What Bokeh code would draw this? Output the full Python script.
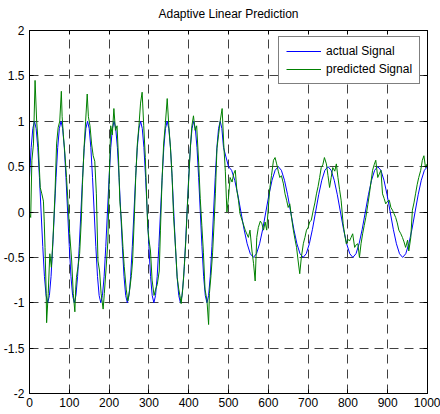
import numpy as np
from bokeh.plotting import figure
from bokeh.models import LinearAxis, FixedTicker, Legend, LegendItem, Range1d
from bokeh.embed import file_html
from bokeh.resources import INLINE

title_text = "Adaptive Linear Prediction"
x_ticks = [0, 100, 200, 300, 400, 500, 600, 700, 800, 900, 1000]
x_tick_labels = ["0", "100", "200", "300", "400", "500", "600", "700", "800", "900", "1000"]
y_ticks = [-2, -1.5, -1, -0.5, 0, 0.5, 1, 1.5, 2]
y_tick_labels = ["-2", "-1.5", "-1", "-0.5", "0", "0.5", "1", "1.5", "2"]

# actual signal, first part (samples 0..487.5, step 500/120)
actual_part1 = [
    0.38, 0.71, 0.92, 1.00, 0.92, 0.71, 0.38, 0.00, -0.38, -0.71, -0.92, -1.00, -0.92, -0.71, -0.38, 0.00,
    0.38, 0.71, 0.92, 1.00, 0.92, 0.71, 0.38, 0.00, -0.38, -0.71, -0.92, -1.00, -0.92, -0.71, -0.38, 0.00,
    0.38, 0.71, 0.92, 1.00, 0.92, 0.71, 0.38, 0.00, -0.38, -0.71, -0.92, -1.00, -0.92, -0.71, -0.38, 0.00,
    0.38, 0.71, 0.92, 1.00, 0.92, 0.71, 0.38, 0.00, -0.38, -0.71, -0.92, -1.00, -0.92, -0.71, -0.38, 0.00,
    0.38, 0.71, 0.92, 1.00, 0.92, 0.71, 0.38, 0.00, -0.38, -0.71, -0.92, -1.00, -0.92, -0.71, -0.38, 0.00,
    0.38, 0.71, 0.92, 1.00, 0.92, 0.71, 0.38, 0.00, -0.38, -0.71, -0.92, -1.00, -0.92, -0.71, -0.38, 0.00,
    0.38, 0.71, 0.92, 1.00, 0.92, 0.71, 0.38, 0.00, -0.38, -0.71, -0.92, -1.00, -0.92, -0.71, -0.38, 0.00,
    0.38, 0.71, 0.92, 1.00, 0.92, 0.71,
]
# actual signal, second part (samples 500..1000, step 125/16)
actual_part2 = [
    0.50, 0.46, 0.35, 0.19, 0.00, -0.19, -0.35, -0.46, -0.50, -0.46, -0.35, -0.19, 0.00, 0.19, 0.35, 0.46,
    0.50, 0.46, 0.35, 0.19, 0.00, -0.19, -0.35, -0.46, -0.50, -0.46, -0.35, -0.19, 0.00, 0.19, 0.35, 0.46,
    0.50, 0.46, 0.35, 0.19, 0.00, -0.19, -0.35, -0.46, -0.50, -0.46, -0.35, -0.19, 0.00, 0.19, 0.35, 0.46,
    0.50, 0.46, 0.35, 0.19, 0.00, -0.19, -0.35, -0.46, -0.50, -0.46, -0.35, -0.19, 0.00, 0.19, 0.35, 0.46,
    0.50,
]
actual_last_sample = [1000]
actual_last_value = [0.0]

predicted_x = [
    0, 3, 6, 10, 14, 18, 22, 27, 31, 35, 37, 39, 42, 43, 47, 51, 55, 59, 64, 68, 72, 76, 80, 82, 85, 89, 93, 97,
    101, 106, 110, 114, 116, 118, 122, 126, 130,
    133, 137, 141, 145, 148, 152, 156, 160, 164, 168, 172, 176, 180, 185, 188, 192, 197,
    200, 204, 208, 212, 216, 220, 224, 227, 231, 235, 238, 243, 247, 252, 256, 259, 263,
    267, 271, 275, 279, 283, 287, 291, 297, 300, 304, 308, 313, 317, 321, 326, 329,
    333, 337, 341, 346, 350, 354, 358, 362, 367, 371, 375, 379, 381, 385, 389, 393, 396,
    400, 404, 408, 412, 416, 420, 425, 429, 433, 437, 441, 446, 450, 452, 456, 460, 464,
    467, 471, 475, 479, 484, 488, 492, 496,
    500, 504, 509, 513, 517, 521, 525, 529, 534, 542, 550, 554, 559, 563, 567, 571, 575, 580, 584, 588, 592, 596,
    600, 604, 608, 613, 617, 621, 625, 629, 633, 638, 642, 646, 650, 654, 658, 663, 667, 671, 675, 679, 683, 688,
    692, 696, 700, 704, 708, 713, 717, 721, 725, 729, 733, 737, 741, 746, 750, 754, 758, 762, 767, 771, 775, 779,
    783, 788, 792, 796, 800, 804, 808, 812, 817, 821, 825, 829, 833, 837, 841, 845, 850, 854, 858, 862, 866, 870,
    875, 879, 883, 887, 891, 895, 900, 904, 908, 912, 916, 920, 924, 928, 933, 937, 941, 945, 950, 953, 958, 962,
    966, 970, 974, 978, 983, 987, 991, 995, 999,
]
predicted_y = [
    -0.02, -0.06, 0.57, 0.75, 1.45, 1.00, 0.75, 0.27, 0.20, 0.12, -0.10, -0.39, -0.90, -1.22, -0.90, -0.46, -0.61,
    -0.30, 0.20, 0.75, 0.93, 1.00, 1.33, 1.05, 0.85, 0.64, 0.38, 0.09,
    -0.24, -0.54, -0.90, -1.10, -0.85, -0.72, -0.60, -0.46, -0.10,
    0.30, 0.70, 1.00, 1.30, 1.05, 0.95, 0.75, 0.62, 0.56, 0.20, -0.54, -0.65, -0.90, -1.07, -0.90, -0.65, -0.32,
    0.30, 0.95, 0.85, 1.14, 0.90, 0.95, 0.55, 0.12, -0.10, -0.40, -0.60, -0.85, -0.98, -0.85, -0.70, -0.54, -0.10,
    0.40, 0.75, 0.95, 1.20, 1.32, 0.95, 0.60, -0.17, -0.30, -0.43, -0.75, -0.92, -0.85, -0.80, -0.65, -0.20,
    0.35, 0.75, 0.95, 1.25, 0.95, 0.72, 0.42, -0.05, -0.40, -0.72, -0.85, -0.95, -1.01, -0.85, -0.60, -0.30, 0.00,
    0.35, 0.70, 0.95, 1.06, 0.90, 0.95, 0.55, 0.15, -0.15, -0.45, -0.85, -0.98, -1.24, -0.90, -0.70, -0.45, -0.10,
    0.20, 0.70, 0.85, 1.00, 1.14, 0.75, 0.45, 0.00,
    0.16, 0.38, 0.33, 0.42, 0.46, 0.24, 0.13, -0.02, -0.09, -0.20, -0.28, -0.20, -0.43, -0.57, -0.76, -0.28, -0.17,
    -0.10, -0.13, -0.20, -0.11, -0.20,
    0.05, 0.27, 0.40, 0.57, 0.60, 0.53, 0.45, 0.38, 0.40, 0.31, 0.20, 0.13, 0.05, 0.09, -0.05, -0.20, -0.30, -0.39,
    -0.54, -0.68, -0.50, -0.35,
    -0.28, -0.20, -0.17, -0.11, -0.09, 0.02, 0.10, 0.20, 0.28, 0.38, 0.49, 0.52, 0.60, 0.53, 0.40, 0.27, 0.38, 0.49,
    0.45, 0.53, 0.38, 0.25,
    0.13, -0.13, -0.25, -0.35, -0.30, -0.32, -0.28, -0.24, -0.39, -0.36, -0.35, -0.50, -0.35, -0.24, -0.15, -0.06,
    0.08, 0.20, 0.33, 0.46, 0.52, 0.57,
    0.38, 0.42, 0.46, 0.20, 0.15, 0.09, 0.12, 0.13, 0.05, 0.02, -0.02, -0.06, -0.12, -0.20, -0.24, -0.28, -0.33,
    -0.39, -0.31, -0.43, -0.28, 0.02,
    0.10, 0.20, 0.30, 0.38, 0.46, 0.57, 0.62, 0.49, 0.53,
]

# sample positions of the actual signal
x1 = list(np.arange(len(actual_part1)) * 500.0 / 120.0)
x2 = list(500.0 + np.arange(len(actual_part2)) * 125.0 / 16.0)
actual_x = x1 + x2 + actual_last_sample
actual_y = actual_part1 + actual_part2 + actual_last_value

FONT = "Liberation Sans"

p = figure(width=440, height=414, output_backend="svg", toolbar_location=None,
           x_range=Range1d(0, 1000), y_range=Range1d(-2, 2),
           min_border_left=26, min_border_right=13, min_border_top=30, min_border_bottom=21)
p.background_fill_color = "white"
p.border_fill_color = "white"
p.outline_line_color = "black"
p.outline_line_width = 1
p.outline_line_alpha = 1

r_blue = p.line(actual_x, actual_y, line_color="#0000ff", line_width=1)
r_green = p.line(predicted_x, predicted_y, line_color="#008000", line_width=1)

for ax in p.xaxis:
    ax.ticker = FixedTicker(ticks=x_ticks)
    ax.major_label_overrides = {t: l for t, l in zip(x_ticks, x_tick_labels)}
    ax.major_label_standoff = 4
for ax in p.yaxis:
    ax.ticker = FixedTicker(ticks=y_ticks)
    ax.major_label_overrides = {t: l for t, l in zip(y_ticks, y_tick_labels)}
    ax.major_label_standoff = 5

for ax in list(p.xaxis) + list(p.yaxis):
    ax.major_tick_in = 4
    ax.major_tick_out = 0
    ax.minor_tick_line_color = None
    ax.axis_line_color = "black"
    ax.major_tick_line_color = "black"
    ax.major_label_text_font = FONT
    ax.major_label_text_font_size = "12px"
    ax.major_label_text_color = "black"

# top axis carries the chart title as its label
top_axis = LinearAxis(ticker=FixedTicker(ticks=x_ticks), major_tick_in=4, major_tick_out=0,
                      minor_tick_line_color=None, major_label_text_font_size="0px",
                      major_label_standoff=0, axis_line_color="black",
                      major_label_overrides={t: "" for t in x_ticks},
                      axis_label=title_text, axis_label_standoff=10,
                      axis_label_text_font=FONT, axis_label_text_font_size="12px",
                      axis_label_text_font_style="normal", axis_label_text_color="black")
right_axis = LinearAxis(ticker=FixedTicker(ticks=y_ticks), major_tick_in=4, major_tick_out=0,
                        minor_tick_line_color=None, major_label_text_font_size="0px",
                        major_label_standoff=0, axis_line_color="black",
                        major_label_overrides={t: "" for t in y_ticks})
p.add_layout(top_axis, "above")
p.add_layout(right_axis, "right")

p.xgrid.ticker = FixedTicker(ticks=x_ticks)
p.ygrid.ticker = FixedTicker(ticks=y_ticks)
for g in (p.xgrid, p.ygrid):
    g.grid_line_color = "#404040"
    g.grid_line_dash = "9 6"
    g.grid_line_width = 1

legend = Legend(items=[LegendItem(label="actual Signal", renderers=[r_blue]),
                       LegendItem(label="predicted Signal", renderers=[r_green])],
                location=(249, 309), orientation="vertical")
legend.label_text_font = FONT
legend.label_text_font_size = "12px"
legend.label_text_color = "black"
legend.glyph_width = 35
legend.glyph_height = 14
legend.label_height = 14
legend.label_standoff = 5
legend.spacing = 4
legend.padding = 7
legend.margin = 0
legend.border_line_color = "black"
legend.border_line_width = 1
legend.background_fill_color = "white"
legend.background_fill_alpha = 1
p.add_layout(legend)

open("out.html", "w").write(file_html(p, INLINE))
